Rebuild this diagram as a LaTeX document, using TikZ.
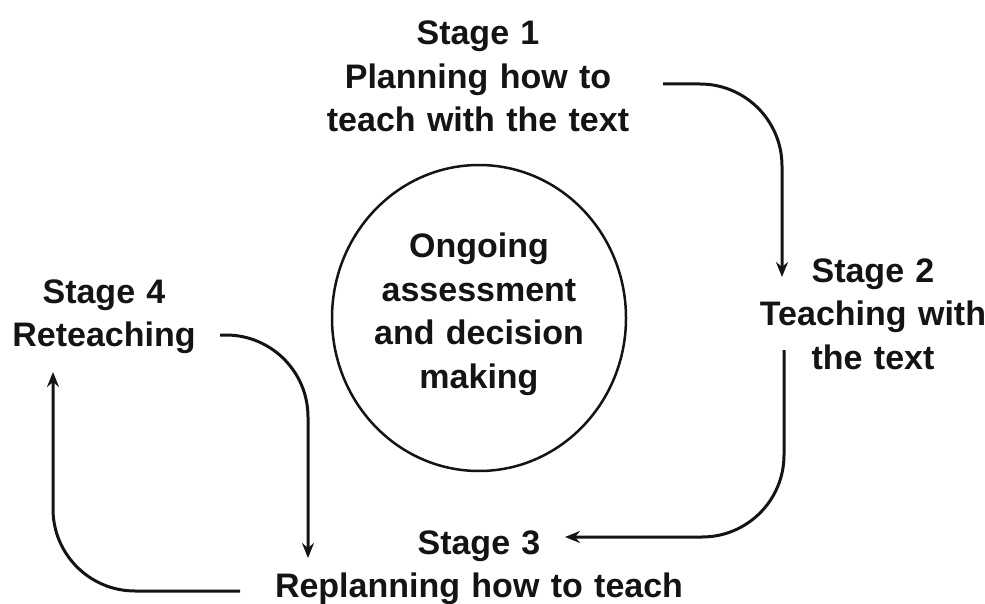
\documentclass[tikz,border=0pt]{standalone}
\usepackage{fontspec}
\setmainfont{Liberation Sans}
\usetikzlibrary{shapes.geometric,arrows.meta}
\begin{document}
\begin{tikzpicture}[x=1pt,y=-1pt,
  lbl/.style={font=\bfseries\fontsize{34}{43.5}\selectfont, align=center, text width=460pt, anchor=base, inner sep=0pt, text=black!92},
  flow/.style={line width=3pt, rounded corners=82pt, draw=black!92, -{Stealth[length=15pt,width=12pt,inset=5pt]}},
]
\useasboundingbox (0,0) rectangle (985,604);
\fill[white] (0,0) rectangle (985,604);
\node[lbl] (s1) at (478,45) {Stage 1\\Planning how to\\teach with the text};
\node[lbl] (s2) at (873,282) {Stage 2\\Teaching with\\the text};
\node[lbl] (s3) at (479,554) {Stage 3\\Replanning how to teach};
\node[lbl] (s4) at (104,303) {Stage 4\\Reteaching};
\node[draw=black!92, ellipse, line width=2.5pt, minimum width=294pt, minimum height=306pt, inner sep=0pt] (core) at (479,318) {};
\node[lbl, text width=300pt] (coretext) at (479,258) {Ongoing\\assessment\\and decision\\making};
\coordinate (a1s) at (663,84);  \coordinate (a1e) at (782,277);
\coordinate (a2s) at (784,350); \coordinate (a2e) at (565,537);
\coordinate (a3s) at (220,335); \coordinate (a3e) at (308,558);
\coordinate (a4s) at (240,591); \coordinate (a4e) at (53,372);
\draw[flow] (a1s) -| (a1e);
\draw[flow] (a2s) |- (a2e);
\draw[flow] (a3s) -| (a3e);
\draw[flow] (a4s) -| (a4e);
\end{tikzpicture}
\end{document}
